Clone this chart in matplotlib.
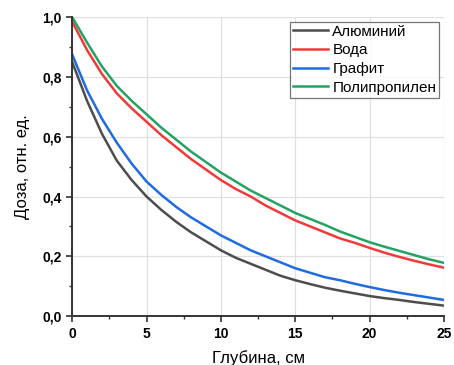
import matplotlib
matplotlib.use("Agg")
import matplotlib.pyplot as plt
from matplotlib.ticker import MultipleLocator

plt.rcParams['font.family'] = ['Liberation Sans', 'DejaVu Sans']

depth = list(range(26))
aluminium = [0.85,0.72,0.61,0.52,0.455,0.40,0.355,0.315,0.28,0.25,0.22,0.195,0.175,0.155,0.135,0.12,0.107,0.095,0.085,0.076,0.067,0.06,0.054,0.047,0.041,0.035]
graphite = [0.875,0.755,0.66,0.58,0.51,0.45,0.405,0.365,0.33,0.30,0.27,0.245,0.22,0.20,0.18,0.16,0.145,0.13,0.12,0.108,0.097,0.087,0.078,0.07,0.062,0.054]
water = [0.985,0.89,0.81,0.745,0.695,0.65,0.605,0.565,0.525,0.49,0.455,0.425,0.40,0.37,0.345,0.32,0.30,0.28,0.26,0.245,0.228,0.212,0.198,0.185,0.173,0.162]
polyprop = [1.0,0.915,0.835,0.77,0.72,0.675,0.63,0.59,0.55,0.515,0.48,0.45,0.42,0.395,0.37,0.345,0.325,0.305,0.283,0.265,0.247,0.232,0.218,0.204,0.19,0.178]
labels = ["Алюминий", "Вода", "Графит", "Полипропилен"]
colors = ["#4d4d4d", "#f03a3a", "#1f6be0", "#22a362"]

fig = plt.figure(figsize=(4.54, 3.65), dpi=100)
ax = fig.add_axes([0.159, 0.134, 0.819, 0.819])

for y, lab, c in zip([aluminium, water, graphite, polyprop], labels, colors):
    ax.plot(depth, y, color=c, lw=1.8, label=lab)

ax.set_xlim(0, 25)
ax.set_ylim(0, 1.0)
ax.xaxis.set_major_locator(MultipleLocator(5))
ax.xaxis.set_minor_locator(MultipleLocator(2.5))
ax.yaxis.set_major_locator(MultipleLocator(0.2))
ax.yaxis.set_minor_locator(MultipleLocator(0.1))
ax.set_yticks([0, 0.2, 0.4, 0.6, 0.8, 1.0])
ax.set_yticklabels(["0,0", "0,2", "0,4", "0,6", "0,8", "1,0"])
ax.set_xticks([0, 5, 10, 15, 20, 25])
ax.set_xticklabels(["0", "5", "10", "15", "20", "25"])
for lbl in ax.get_xticklabels() + ax.get_yticklabels():
    lbl.set_fontweight('bold')
    lbl.set_fontsize(10)
ax.tick_params(which='major', direction='out', length=4, width=1.2, color='#333333')
ax.tick_params(which='minor', direction='out', length=2.5, width=1.0, color='#333333')
ax.grid(True, which='major', color='#e0e0e0', lw=0.9)
ax.set_axisbelow(True)
for s in ['top', 'right']:
    ax.spines[s].set_visible(False)
for s in ['left', 'bottom']:
    ax.spines[s].set_linewidth(1.4)
    ax.spines[s].set_color('#333333')

ax.set_xlabel("Глубина, см", fontsize=12, labelpad=7)
ax.set_ylabel("Доза, отн. ед.", fontsize=12, labelpad=9)

leg = ax.legend(loc='upper right', fontsize=11, frameon=True, fancybox=False,
                edgecolor='#555555', handlelength=2.3, handletextpad=0.3,
                borderpad=0.2, labelspacing=0.3, borderaxespad=0.3)
leg.get_frame().set_linewidth(0.9)

fig.savefig("out.png", dpi=100)
